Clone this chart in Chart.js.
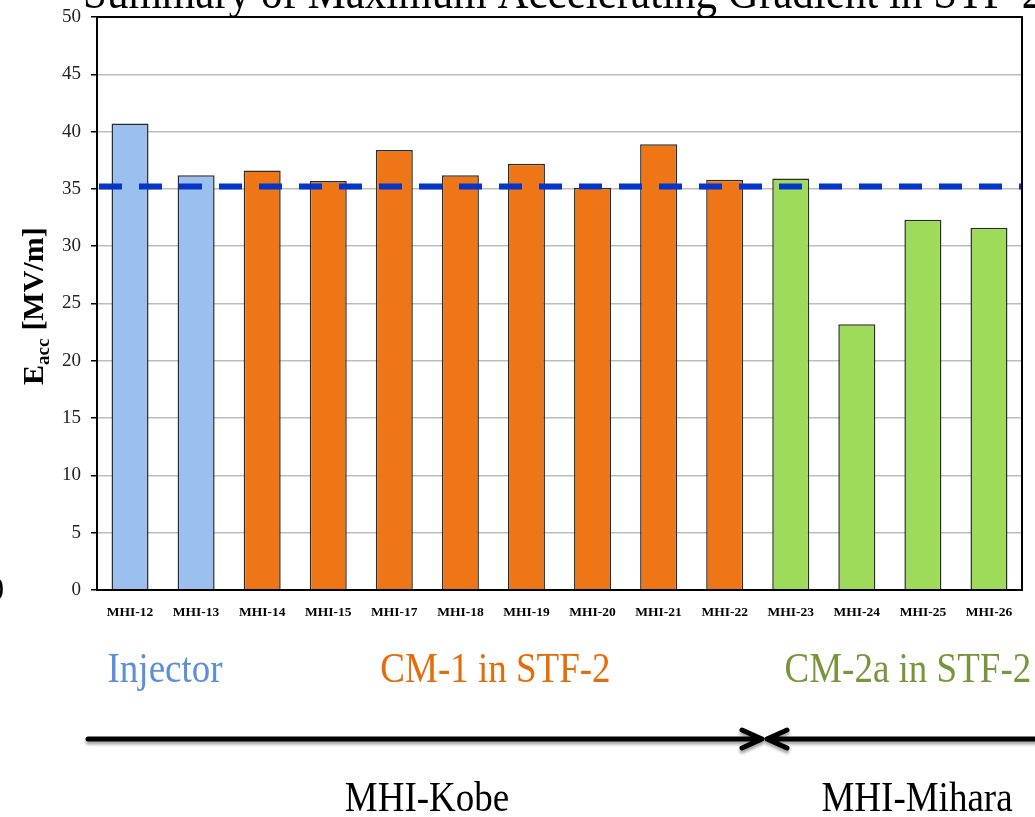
<!DOCTYPE html>
<html>
<head>
<meta charset="utf-8">
<script src="https://cdn.jsdelivr.net/npm/chart.js@4.4.1/dist/chart.umd.min.js"></script>
<style>
    html, body { margin: 0; padding: 0; background: #fff; }
    #wrap { width: 1035px; height: 817px; }
</style>
</head>
<body>
<div id="wrap"><canvas id="eaccChart" width="1035" height="817"></canvas></div>
<script>
    /* ===== datos ===== */
    const cavities = ["MHI-12", "MHI-13", "MHI-14", "MHI-15", "MHI-17", "MHI-18", "MHI-19",
                      "MHI-20", "MHI-21", "MHI-22", "MHI-23", "MHI-24", "MHI-25", "MHI-26"];
    const eaccMax = [40.7, 36.2, 36.6, 35.7, 38.4, 36.2, 37.2, 35.1, 38.9, 35.8, 35.9, 23.2, 32.3, 31.6];
    const cavityGroup = [0, 0, 1, 1, 1, 1, 1, 1, 1, 1, 2, 2, 2, 2];
    const groupNames = ["Injector", "CM-1 in STF-2", "CM-2a in STF-2"];
    const averageEacc = 35.2;
    const yTicks = [0, 5, 10, 15, 20, 25, 30, 35, 40, 45, 50];

    const barColors = ["#9bbfee", "#ee7616", "#9fdb5a"];
    const groupTextColors = ["#5b8fd9", "#e46c0a", "#77963c"];
    const SERIF = "'Liberation Serif', 'Times New Roman', serif";

    /* ===== texto estirado verticalmente ===== */
    function stretchedText(ctx, text, x, y, size, color, align, sy) {
        ctx.save();
        ctx.font = `${size}px ${SERIF}`;
        ctx.fillStyle = color;
        ctx.textAlign = align;
        ctx.textBaseline = "alphabetic";
        ctx.translate(x, y);
        ctx.scale(1, sy);
        ctx.fillText(text, 0, 0);
        ctx.restore();
    }

    function arrowLine(ctx, x1, x2, y, headAt) {
        ctx.save();
        ctx.strokeStyle = "#000";
        ctx.lineWidth = 5;
        ctx.lineCap = "round";
        ctx.lineJoin = "round";
        ctx.shadowColor = "rgba(0,0,0,0.35)";
        ctx.shadowOffsetY = 3;
        ctx.shadowBlur = 3;
        ctx.beginPath();
        ctx.moveTo(x1, y);
        ctx.lineTo(x2, y);
        const dir = headAt === x2 ? -1 : 1;
        ctx.moveTo(headAt + dir * 20, y - 9);
        ctx.lineTo(headAt, y);
        ctx.lineTo(headAt + dir * 20, y + 9);
        ctx.stroke();
        ctx.restore();
    }

    /* ===== decoraciones ===== */
    const decorations = {
        id: "decorations",
        afterDatasetsDraw(chart) {
            const { ctx, chartArea, scales } = chart;
            const yAvg = scales.y.getPixelForValue(averageEacc);
            ctx.save();
            ctx.strokeStyle = "#0536c9";
            ctx.lineWidth = 6;
            ctx.setLineDash([23, 17]);
            ctx.beginPath();
            ctx.moveTo(chartArea.left + 2, yAvg);
            ctx.lineTo(chartArea.right, yAvg);
            ctx.stroke();
            ctx.restore();
        },
        afterDraw(chart) {
            const { ctx, chartArea, scales } = chart;

            // marco
            ctx.save();
            ctx.strokeStyle = "#000";
            ctx.lineWidth = 2;
            ctx.strokeRect(chartArea.left, chartArea.top, chartArea.right - chartArea.left, chartArea.bottom - chartArea.top);
            ctx.restore();

            // título (cortado arriba)
            stretchedText(ctx, "Summary of Maximum Accelerating Gradient in STF-2", 83, 8, 43, "#000", "left", 1.12);

            // fragmento a la izquierda
            stretchedText(ctx, "0", 4, 600, 30, "#000", "right", 1.1);

            // título eje Y con subíndice
            ctx.save();
            ctx.translate(43, 385);
            ctx.rotate(-Math.PI / 2);
            ctx.fillStyle = "#000";
            ctx.textBaseline = "alphabetic";
            ctx.textAlign = "left";
            ctx.font = `bold 30px ${SERIF}`;
            ctx.fillText("E", 0, 0);
            let w = ctx.measureText("E").width;
            ctx.font = `bold 19px ${SERIF}`;
            ctx.fillText("acc", w, 6);
            w += ctx.measureText("acc").width + 8;
            ctx.font = `bold 30px ${SERIF}`;
            ctx.fillText("[MV/m]", w, 0);
            ctx.restore();

            // nombres de grupos
            groupNames.forEach((name, g) => {
                const idx = cavityGroup.map((v, i) => v === g ? i : -1).filter(i => i >= 0);
                const x0 = scales.x.getPixelForValue(idx[0]);
                const x1 = scales.x.getPixelForValue(idx[idx.length - 1]);
                const shift = g === 2 ? 18 : 2;
                stretchedText(ctx, name, (x0 + x1) / 2 + shift, 682, 37, groupTextColors[g], "center", 1.12);
            });

            // flechas de fabricantes
            arrowLine(ctx, 88, 762, 739, 762);
            arrowLine(ctx, 767, 1045, 739, 767);
            stretchedText(ctx, "MHI-Kobe", 427, 811, 37, "#000", "center", 1.12);
            stretchedText(ctx, "MHI-Mihara", 917, 811, 37, "#000", "center", 1.12);
        }
    };

    /* ===== gráfica ===== */
    new Chart(document.getElementById("eaccChart"), {
        type: "bar",
        data: {
            labels: cavities,
            datasets: [{
                data: eaccMax,
                backgroundColor: cavityGroup.map(g => barColors[g]),
                borderColor: "#2b2b2b",
                borderWidth: 1.5,
                barPercentage: 0.56,
                categoryPercentage: 1.0
            }]
        },
        options: {
            responsive: false,
            animation: false,
            devicePixelRatio: 1,
            layout: { padding: { top: 17, right: 13, left: 0, bottom: 0 } },
            plugins: {
                legend: { display: false },
                tooltip: { enabled: false }
            },
            scales: {
                x: {
                    afterFit: s => { s.height = 227; s.paddingLeft = 0; s.paddingRight = 0; },
                    grid: { display: false, drawTicks: false },
                    border: { color: "#000", width: 2 },
                    ticks: {
                        autoSkip: false,
                        maxRotation: 0,
                        padding: 14,
                        color: "#000",
                        font: { family: SERIF, size: 13.5, weight: "bold" }
                    }
                },
                y: {
                    min: 0,
                    max: 50,
                    afterFit: s => { s.width = 97; s.paddingTop = 0; s.paddingBottom = 0; },
                    afterBuildTicks: s => { s.ticks = yTicks.map(v => ({ value: v })); },
                    grid: { color: "#bdbdbd", lineWidth: 1.5, tickLength: 6, tickColor: "#000" },
                    border: { color: "#000", width: 2 },
                    ticks: {
                        padding: 10,
                        color: "#222",
                        font: { family: SERIF, size: 19 }
                    }
                }
            }
        },
        plugins: [decorations]
    });
</script>
</body>
</html>
